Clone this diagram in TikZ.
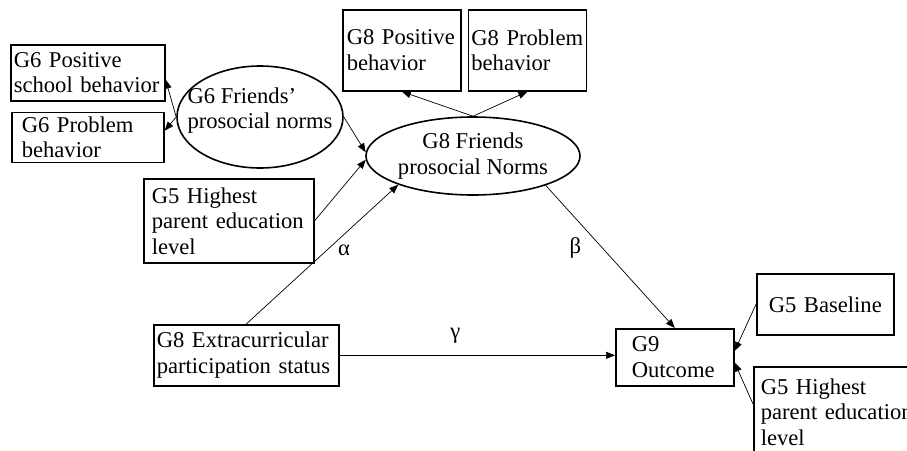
\documentclass[tikz,border=0pt]{standalone}
\usepackage{fontspec}
\setmainfont{Liberation Serif}
\usetikzlibrary{shapes,arrows.meta,positioning}

\begin{document}
\begin{tikzpicture}[
    x=1pt,y=-1pt,
    box/.style={rectangle,draw,line width=1.6pt,anchor=north west,align=left,inner ysep=2pt},
    latent/.style={ellipse,draw,line width=1.6pt,inner sep=0pt},
    arrow/.style={-{Triangle[length=9pt,width=7pt]},line width=0.7pt},
    lbl/.style={inner sep=3pt},
    font=\fontsize{22.6pt}{25.5pt}\selectfont
]
\useasboundingbox (0,0) rectangle (907,450);

% Grade 6 indicators and friends' norms
\node[box,text width=148pt,inner xsep=3pt,minimum height=56pt] (g6pos) at (10,44) {G6 Positive\\school behavior};
\node[box,below=10pt of g6pos,text width=132pt,inner xsep=10pt,minimum height=50pt] (g6prob) {G6 Problem\\behavior};
\node[latent,minimum width=166pt,minimum height=102pt,align=left,inner xsep=-20pt,text depth=18pt] (g6f) at (260,117) {G6 Friends’\\prosocial norms};

% Grade 8 indicators
\node[box,text width=110pt,inner xsep=4pt,minimum height=81pt] (g8pos) at (342,9) {G8 Positive\\behavior};
\node[box,right=6pt of g8pos,text width=112pt,inner xsep=3pt,minimum height=81pt] (g8prob) {G8 Problem\\behavior};
\node[latent,minimum width=214pt,minimum height=78pt,align=center] (g8f) at (473,156) {G8 Friends\\prosocial Norms};

% Covariates and predictor
\node[box,text width=154pt,inner xsep=8pt,minimum height=84pt] (g5hl) at (143,178) {G5 Highest\\parent education\\level};
\node[box,text width=179pt,inner xsep=3pt,minimum height=61pt] (extra) at (153,324) {G8 Extracurricular\\participation status};

% Outcome
\node[box,text width=86pt,inner xsep=16pt,minimum height=57pt] (g9) at (615,328) {G9\\Outcome};
\node[box,text width=113pt,inner xsep=12pt,minimum height=61pt] (g5base) at (756,273) {G5 Baseline};
\node[box,text width=165pt,inner xsep=7pt,minimum height=90pt] (g5hr) at (753,366) {G5 Highest\\parent education\\level};

% Arrows
\draw[arrow] (g6f.west) -- (g6pos.-5);
\draw[arrow] (g6f.west) -- (g6prob.5);
\draw[arrow] (g6f.east) -- (g8f.178);
\draw[arrow] (g5hl.east) -- (g8f.182);
\draw[arrow] (extra.north) -- node[lbl,pos=0.53,right=8pt] (alpha) {α} (g8f.201);
\draw[arrow] (g8f.north) -- (g8pos.south);
\draw[arrow] (g8f.north) -- (g8prob.south);
\draw[arrow] (g8f.-22) -- node[lbl,pos=0.44,left=18pt] (beta) {β} (g9.north);
\draw[arrow] (extra.east) -- node[lbl,pos=0.42,above=9pt] (gamma) {γ} (extra.east -| g9.west);
\draw[arrow] (g5base.west) -- (g9.6);
\draw[arrow] (g5hr.175) -- (g9.-5);

\end{tikzpicture}
\end{document}
